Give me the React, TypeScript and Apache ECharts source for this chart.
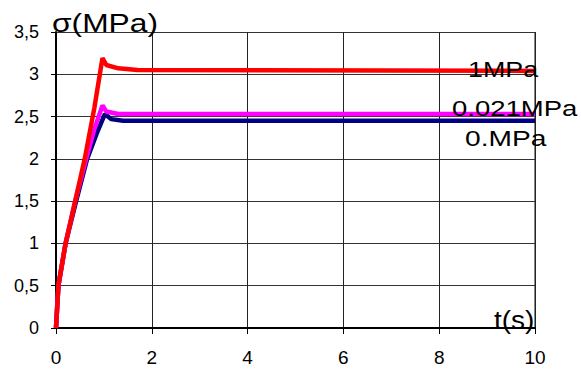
import React, { useEffect, useRef } from "react";
import * as echarts from "echarts";

const tBlue = [0, 0.05, 0.2, 0.42, 0.65, 0.85, 1.02, 1.15, 1.4, 10];
const vBlue = [0, 0.5, 1.0, 1.5, 2.0, 2.3, 2.53, 2.47, 2.45, 2.45];
const tMagenta = [0, 0.05, 0.2, 0.4, 0.63, 0.8, 0.97, 1.05, 1.3, 10];
const vMagenta = [0, 0.5, 1.0, 1.5, 2.0, 2.35, 2.63, 2.56, 2.53, 2.53];
const tRed = [0, 0.05, 0.2, 0.4, 0.6, 0.8, 0.97, 1.05, 1.3, 1.7, 10];
const vRed = [0, 0.5, 1.0, 1.5, 2.0, 2.6, 3.19, 3.11, 3.07, 3.05, 3.04];
const seriesNames = ["0.MPa", "0.021MPa", "1MPa"];

const zip = (t: number[], v: number[]) => t.map((x, i) => [x, v[i]]);

export default function App() {
  const ref = useRef<HTMLDivElement>(null);
  useEffect(() => {
    const chart = echarts.init(ref.current!, null, { renderer: "svg" });
    const font = "Liberation Sans, Arial, sans-serif";
    const mk = (name: string, data: number[][], color: string) => ({
      name,
      type: "line",
      data,
      symbol: "none",
      lineStyle: { color, width: 4.5 },
      silent: true,
    });
    const txt = (text: string, x: number, y: number, size: number, sx: number) => ({
      type: "text",
      x,
      y,
      scaleX: sx,
      z: 100,
      style: { text, fontSize: size, fontFamily: font, fill: "#000", verticalAlign: "top" },
    });
    chart.setOption({
      animation: false,
      backgroundColor: "#fff",
      grid: { left: 56, right: 46, top: 32, bottom: 41 },
      xAxis: {
        type: "value",
        min: 0,
        max: 10,
        interval: 2,
        axisLine: { show: true, onZero: false, lineStyle: { color: "#000", width: 2 } },
        axisTick: { show: true, length: 6, lineStyle: { color: "#000" } },
        axisLabel: { color: "#000", fontSize: 19, fontFamily: font, margin: 20 },
        splitLine: { show: true, lineStyle: { color: "#222", width: 1 } },
      },
      yAxis: {
        type: "value",
        min: 0,
        max: 3.5,
        interval: 0.5,
        axisLine: { show: true, lineStyle: { color: "#000", width: 2 } },
        axisTick: { show: true, length: 5, lineStyle: { color: "#000" } },
        axisLabel: {
          color: "#000",
          fontSize: 18,
          fontFamily: font,
          margin: 17,
          formatter: (v: number) => String(v).replace(".", ","),
        },
        splitLine: { show: true, lineStyle: { color: "#333", width: 1 } },
      },
      graphic: [
        { type: "line", shape: { x1: 535, y1: 32, x2: 535, y2: 328 }, style: { stroke: "#888", lineWidth: 2 } },
        txt("σ(MPa)", 52, 11, 25, 1.27),
        txt("t(s)", 494, 308, 25, 1.12),
        txt(seriesNames[2], 468, 58, 22, 1.22),
        txt(seriesNames[1], 452, 97, 22, 1.25),
        txt(seriesNames[0], 465, 127, 22, 1.28),
      ],
      series: [
        mk(seriesNames[0], zip(tBlue, vBlue), "#000080"),
        mk(seriesNames[1], zip(tMagenta, vMagenta), "#ff00ff"),
        mk(seriesNames[2], zip(tRed, vRed), "#ff0000"),
      ],
    });
    return () => chart.dispose();
  }, []);
  return <div ref={ref} style={{ width: 581, height: 369, position: "absolute", left: 0, top: 0 }} />;
}
